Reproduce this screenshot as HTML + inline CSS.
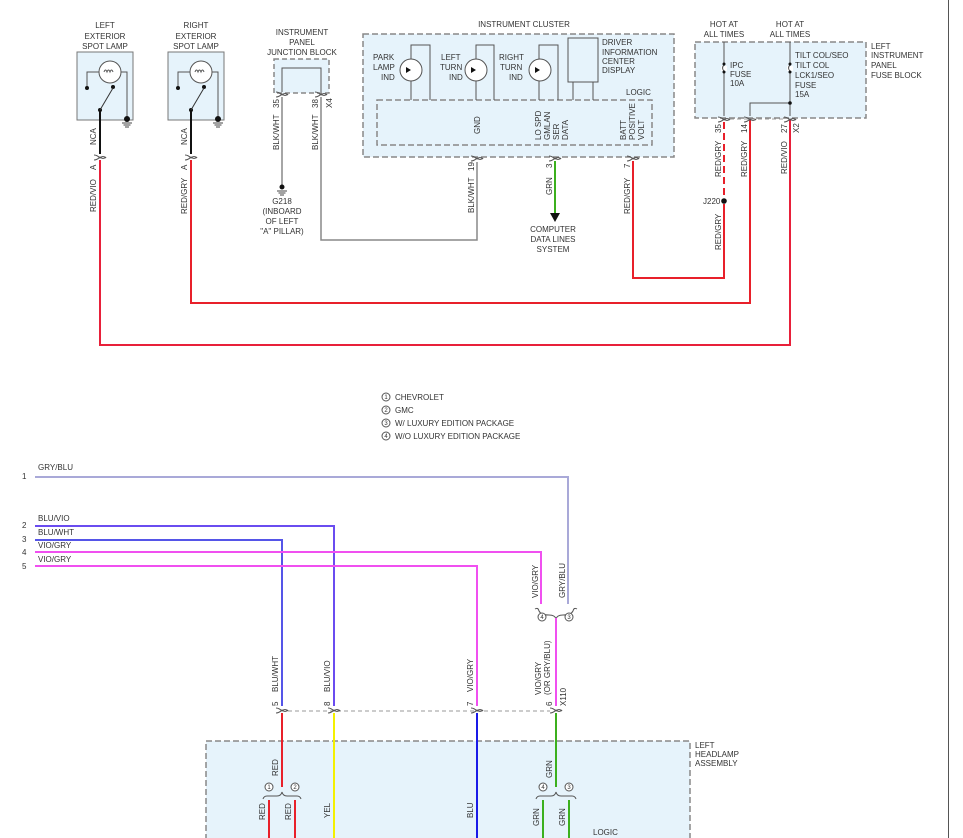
<!DOCTYPE html>
<html><head><meta charset="utf-8"><style>
html,body{margin:0;padding:0;background:#fff;}
svg{display:block;font-family:"Liberation Sans",sans-serif;}
text{font-size:8px;fill:#333;}
</style></head><body>
<svg width="963" height="838" viewBox="0 0 963 838" xmlns="http://www.w3.org/2000/svg">
<defs>
<g id="pin"><path d="M-6,0 q3,0 6,3 q3,-3 6,0" fill="none" stroke="#555" stroke-width="1"/><path d="M-6,5 q3,0 6,-3 q3,3 6,0" fill="none" stroke="#555" stroke-width="1"/></g>
<g id="gnd"><line x1="-5" y1="0" x2="5" y2="0" stroke="#444"/><line x1="-3.5" y1="2" x2="3.5" y2="2" stroke="#444"/><line x1="-2" y1="4" x2="2" y2="4" stroke="#444"/></g>
<g id="lamp">
<rect x="0" y="0" width="56" height="68" fill="#e6f3fb" stroke="#777"/>
<circle cx="33" cy="20" r="11" fill="#fff" stroke="#555"/>
<path d="M27,20 q1.5,-4 3,0 q1.5,-4 3,0 q1.5,-4 3,0" fill="none" stroke="#555"/>
<polyline points="10,36 10,20 22,20" fill="none" stroke="#555"/>
<polyline points="44,20 50,20 50,66" fill="none" stroke="#555"/>
<circle cx="10" cy="36" r="2" fill="#111"/>
<circle cx="36" cy="35" r="2" fill="#111"/>
<circle cx="23" cy="58" r="2" fill="#111"/>
<line x1="23" y1="58" x2="36" y2="36" stroke="#333"/>
<circle cx="50" cy="67" r="3" fill="#111"/>
<use href="#gnd" x="50" y="71"/>
</g>
</defs>

<!-- right border line -->
<line x1="948.5" y1="0" x2="948.5" y2="838" stroke="#555"/>

<!-- spot lamps -->
<text x="105" y="28" text-anchor="middle">LEFT</text><text x="105" y="39" text-anchor="middle">EXTERIOR</text><text x="105" y="49" text-anchor="middle">SPOT LAMP</text>
<text x="196" y="28" text-anchor="middle">RIGHT</text><text x="196" y="39" text-anchor="middle">EXTERIOR</text><text x="196" y="49" text-anchor="middle">SPOT LAMP</text>
<use href="#lamp" x="77" y="52"/>
<use href="#lamp" x="168" y="52"/>
<line x1="100" y1="110" x2="100" y2="154" stroke="#111" stroke-width="2"/>
<line x1="191" y1="110" x2="191" y2="154" stroke="#111" stroke-width="2"/>
<use href="#pin" x="100" y="155"/><use href="#pin" x="191" y="155"/>
<text transform="translate(96,145) rotate(-90)">NCA</text>
<text transform="translate(187,145) rotate(-90)">NCA</text>
<text transform="translate(96,170) rotate(-90)">A</text>
<text transform="translate(187,170) rotate(-90)">A</text>
<text transform="translate(96,212) rotate(-90)">RED/VIO</text>
<text transform="translate(187,214) rotate(-90)">RED/GRY</text>
<polyline points="100,160 100,345 790,345 790,120" fill="none" stroke="#e8203a" stroke-width="2"/>
<polyline points="191,160 191,303 750,303 750,120" fill="none" stroke="#e8202a" stroke-width="2"/>

<!-- junction block -->
<text x="302" y="35" text-anchor="middle">INSTRUMENT</text><text x="302" y="45" text-anchor="middle">PANEL</text><text x="302" y="55" text-anchor="middle">JUNCTION BLOCK</text>
<rect x="274" y="59" width="55" height="34" fill="#e6f3fb" stroke="#888" stroke-dasharray="5,3" stroke-width="1.5"/>
<polyline points="282,92 282,68 321,68 321,92" fill="none" stroke="#555"/>
<use href="#pin" x="282" y="92"/><use href="#pin" x="321" y="92"/>
<text transform="translate(279,108) rotate(-90)">35</text>
<text transform="translate(318,108) rotate(-90)">38</text>
<text transform="translate(332,108) rotate(-90)">X4</text>
<text transform="translate(279,150) rotate(-90)">BLK/WHT</text>
<text transform="translate(318,150) rotate(-90)">BLK/WHT</text>
<line x1="282" y1="97" x2="282" y2="187" stroke="#888" stroke-width="1.5"/>
<circle cx="282" cy="187" r="2.5" fill="#111"/><use href="#gnd" x="282" y="191"/>
<text x="282" y="204" text-anchor="middle">G218</text>
<text x="282" y="214" text-anchor="middle">(INBOARD</text>
<text x="282" y="224" text-anchor="middle">OF LEFT</text>
<text x="282" y="234" text-anchor="middle">"A" PILLAR)</text>
<polyline points="321,97 321,240 477,240 477,162" fill="none" stroke="#888" stroke-width="1.5"/>

<!-- instrument cluster -->
<text x="524" y="27" text-anchor="middle">INSTRUMENT CLUSTER</text>
<rect x="363" y="34" width="311" height="123" fill="#e6f3fb" stroke="#888" stroke-dasharray="6,3" stroke-width="1.5"/>
<rect x="377" y="100" width="275" height="45" fill="#e6f3fb" stroke="#888" stroke-dasharray="6,3" stroke-width="1.5"/>
<g fill="none" stroke="#555">
<polyline points="411,100 411,45 430,45 430,100"/>
<polyline points="476,100 476,45 494,45 494,100"/>
<polyline points="539,100 539,45 558,45 558,100"/>
<rect x="568" y="38" width="30" height="44" fill="#e6f3fb"/>
<line x1="573" y1="82" x2="573" y2="100"/><line x1="593" y1="82" x2="593" y2="100"/>
</g>
<g fill="#fff" stroke="#555"><circle cx="411" cy="70" r="11"/><circle cx="476" cy="70" r="11"/><circle cx="540" cy="70" r="11"/></g>
<g fill="#111"><path d="M406,67 l5,3 l-5,3z"/><path d="M471,67 l5,3 l-5,3z"/><path d="M535,67 l5,3 l-5,3z"/></g>
<text x="373" y="60">PARK</text><text x="373" y="70">LAMP</text><text x="381" y="80">IND</text>
<text x="441" y="60">LEFT</text><text x="440" y="70">TURN</text><text x="449" y="80">IND</text>
<text x="499" y="60">RIGHT</text><text x="500" y="70">TURN</text><text x="509" y="80">IND</text>
<text x="602" y="45">DRIVER</text><text x="602" y="55">INFORMATION</text><text x="602" y="64">CENTER</text><text x="602" y="73">DISPLAY</text>
<text x="626" y="95">LOGIC</text>
<text transform="translate(480,134) rotate(-90)">GND</text>
<text transform="translate(541,140) rotate(-90)">LO SPD</text>
<text transform="translate(550,140) rotate(-90)">GMLAN</text>
<text transform="translate(559,140) rotate(-90)">SER</text>
<text transform="translate(568,140) rotate(-90)">DATA</text>
<text transform="translate(626,140) rotate(-90)">BATT</text>
<text transform="translate(635,140) rotate(-90)">POSITIVE</text>
<text transform="translate(644,140) rotate(-90)">VOLT</text>
<use href="#pin" x="477" y="156"/><use href="#pin" x="555" y="156"/><use href="#pin" x="633" y="156"/>
<text transform="translate(474,171) rotate(-90)">19</text>
<text transform="translate(552,168) rotate(-90)">3</text>
<text transform="translate(630,168) rotate(-90)">7</text>
<text transform="translate(474,213) rotate(-90)">BLK/WHT</text>
<text transform="translate(552,195) rotate(-90)">GRN</text>
<text transform="translate(630,214) rotate(-90)">RED/GRY</text>
<line x1="555" y1="161" x2="555" y2="213" stroke="#3cb01e" stroke-width="2"/>
<path d="M550,213 h10 l-5,9z" fill="#111"/>
<text x="553" y="232" text-anchor="middle">COMPUTER</text><text x="553" y="242" text-anchor="middle">DATA LINES</text><text x="553" y="252" text-anchor="middle">SYSTEM</text>
<polyline points="633,161 633,278 724,278 724,204" fill="none" stroke="#e8202a" stroke-width="2"/>

<!-- fuse block -->
<text x="724" y="27" text-anchor="middle">HOT AT</text><text x="724" y="37" text-anchor="middle">ALL TIMES</text>
<text x="790" y="27" text-anchor="middle">HOT AT</text><text x="790" y="37" text-anchor="middle">ALL TIMES</text>
<rect x="695" y="42" width="171" height="76" fill="#e6f3fb" stroke="#888" stroke-dasharray="6,3" stroke-width="1.5"/>
<g stroke="#555" fill="none">
<line x1="724" y1="42" x2="724" y2="116"/>
<line x1="790" y1="42" x2="790" y2="116"/>
<polyline points="750,116 750,103 790,103"/>
</g>
<g fill="#fff"><rect x="721" y="66" width="6" height="5"/><rect x="787" y="66" width="6" height="5"/></g>
<path d="M724,65 q-3,3 0,6" fill="none" stroke="#555"/><path d="M790,65 q-3,3 0,6" fill="none" stroke="#555"/>
<g fill="#111"><circle cx="724" cy="64" r="1.5"/><circle cx="724" cy="72" r="1.5"/><circle cx="790" cy="64" r="1.5"/><circle cx="790" cy="72" r="1.5"/><circle cx="790" cy="103" r="1.8"/></g>
<text x="730" y="68">IPC</text><text x="730" y="77">FUSE</text><text x="730" y="86">10A</text>
<text x="795" y="58">TILT COL/SEO</text><text x="795" y="68">TILT COL</text><text x="795" y="78">LCK1/SEO</text><text x="795" y="88">FUSE</text><text x="795" y="97">15A</text>
<text x="871" y="49">LEFT</text><text x="871" y="58">INSTRUMENT</text><text x="871" y="68">PANEL</text><text x="871" y="78">FUSE BLOCK</text>
<use href="#pin" x="724" y="117"/><use href="#pin" x="750" y="117"/><use href="#pin" x="790" y="117"/>
<line x1="730" y1="119" x2="784" y2="119" stroke="#999" stroke-dasharray="4,3"/>
<text transform="translate(721,133) rotate(-90)">35</text>
<text transform="translate(747,133) rotate(-90)">14</text>
<text transform="translate(787,133) rotate(-90)">27</text>
<text transform="translate(799,133) rotate(-90)">X2</text>
<text transform="translate(721,177) rotate(-90)">RED/GRY</text>
<text transform="translate(747,177) rotate(-90)">RED/GRY</text>
<text transform="translate(787,174) rotate(-90)">RED/VIO</text>
<text transform="translate(721,250) rotate(-90)">RED/GRY</text>
<line x1="724" y1="122" x2="724" y2="200" stroke="#e8202a" stroke-width="2" stroke-dasharray="7,4"/>
<circle cx="724" cy="201" r="2.8" fill="#111"/>
<text x="703" y="204">J220</text>

<!-- legend -->
<g fill="#fff" stroke="#555"><circle cx="386" cy="397" r="4"/><circle cx="386" cy="410" r="4"/><circle cx="386" cy="423" r="4"/><circle cx="386" cy="436" r="4"/></g>
<g style="font-size:6px"><text x="386" y="399" text-anchor="middle" style="font-size:6px">1</text><text x="386" y="412" text-anchor="middle" style="font-size:6px">2</text><text x="386" y="425" text-anchor="middle" style="font-size:6px">3</text><text x="386" y="438" text-anchor="middle" style="font-size:6px">4</text></g>
<text x="395" y="400">CHEVROLET</text><text x="395" y="413">GMC</text><text x="395" y="426">W/ LUXURY EDITION PACKAGE</text><text x="395" y="439">W/O LUXURY EDITION PACKAGE</text>

<!-- lower wires -->
<text x="22" y="479">1</text><text x="22" y="528">2</text><text x="22" y="542">3</text><text x="22" y="555">4</text><text x="22" y="569">5</text>
<text x="38" y="470">GRY/BLU</text><text x="38" y="521">BLU/VIO</text><text x="38" y="535">BLU/WHT</text><text x="38" y="548">VIO/GRY</text><text x="38" y="562">VIO/GRY</text>
<polyline points="35,477 568,477 568,604" fill="none" stroke="#a9a9d8" stroke-width="2"/>
<polyline points="35,526 334,526 334,706" fill="none" stroke="#6a4cf0" stroke-width="2"/>
<polyline points="35,540 282,540 282,706" fill="none" stroke="#5555e8" stroke-width="2"/>
<polyline points="35,552 541,552 541,604" fill="none" stroke="#f050f0" stroke-width="2"/>
<polyline points="35,566 477,566 477,706" fill="none" stroke="#f050f0" stroke-width="2"/>
<text transform="translate(538,598) rotate(-90)">VIO/GRY</text>
<text transform="translate(565,598) rotate(-90)">GRY/BLU</text>
<path d="M535,609 q3,-2 4,2 q2,4 10,4 q6,0 7,4 q1,-4 7,-4 q8,0 10,-4 q1,-4 4,-2" fill="none" stroke="#555"/>
<g fill="#fff" stroke="#555"><circle cx="542" cy="617" r="4"/><circle cx="569" cy="617" r="4"/></g>
<text x="542" y="619" text-anchor="middle" style="font-size:6px">4</text><text x="569" y="619" text-anchor="middle" style="font-size:6px">3</text>
<line x1="556" y1="618" x2="556" y2="706" stroke="#f050f0" stroke-width="2"/>
<text transform="translate(541,695) rotate(-90)">VIO/GRY</text>
<text transform="translate(550,695) rotate(-90)">(OR GRY/BLU)</text>
<text transform="translate(566,706) rotate(-90)">X110</text>
<text transform="translate(278,692) rotate(-90)">BLU/WHT</text>
<text transform="translate(330,692) rotate(-90)">BLU/VIO</text>
<text transform="translate(473,692) rotate(-90)">VIO/GRY</text>
<text transform="translate(278,706) rotate(-90)">5</text>
<text transform="translate(330,706) rotate(-90)">8</text>
<text transform="translate(473,706) rotate(-90)">7</text>
<text transform="translate(552,706) rotate(-90)">6</text>
<line x1="288" y1="711" x2="550" y2="711" stroke="#999" stroke-dasharray="4,3"/>
<use href="#pin" x="282" y="708"/><use href="#pin" x="334" y="708"/><use href="#pin" x="477" y="708"/><use href="#pin" x="556" y="708"/>

<!-- headlamp assembly -->
<rect x="206" y="741" width="484" height="110" fill="#e6f3fb" stroke="#888" stroke-dasharray="6,3" stroke-width="1.5"/>
<text x="695" y="748">LEFT</text><text x="695" y="757">HEADLAMP</text><text x="695" y="766">ASSEMBLY</text>
<line x1="282" y1="713" x2="282" y2="787" stroke="#e8202a" stroke-width="2"/>
<line x1="334" y1="713" x2="334" y2="838" stroke="#f4f000" stroke-width="2"/>
<line x1="477" y1="713" x2="477" y2="838" stroke="#1a1ae8" stroke-width="2"/>
<line x1="556" y1="713" x2="556" y2="787" stroke="#3cb01e" stroke-width="2"/>
<text transform="translate(278,776) rotate(-90)">RED</text>
<text transform="translate(552,778) rotate(-90)">GRN</text>
<path d="M263,799 q1,-3 4,-3 h10 q4,0 5,-4 q1,4 5,4 h10 q3,0 4,3" fill="none" stroke="#555"/>
<path d="M536,799 q1,-3 4,-3 h11 q4,0 5,-4 q1,4 5,4 h11 q3,0 4,3" fill="none" stroke="#555"/>
<g fill="#fff" stroke="#555"><circle cx="269" cy="787" r="4"/><circle cx="295" cy="787" r="4"/><circle cx="543" cy="787" r="4"/><circle cx="569" cy="787" r="4"/></g>
<text x="269" y="789" text-anchor="middle" style="font-size:6px">1</text><text x="295" y="789" text-anchor="middle" style="font-size:6px">2</text>
<text x="543" y="789" text-anchor="middle" style="font-size:6px">4</text><text x="569" y="789" text-anchor="middle" style="font-size:6px">3</text>
<line x1="269" y1="800" x2="269" y2="838" stroke="#e8202a" stroke-width="2"/>
<line x1="295" y1="800" x2="295" y2="838" stroke="#e8202a" stroke-width="2"/>
<line x1="543" y1="800" x2="543" y2="838" stroke="#3cb01e" stroke-width="2"/>
<line x1="569" y1="800" x2="569" y2="838" stroke="#3cb01e" stroke-width="2"/>
<text transform="translate(265,820) rotate(-90)">RED</text>
<text transform="translate(291,820) rotate(-90)">RED</text>
<text transform="translate(330,818) rotate(-90)">YEL</text>
<text transform="translate(473,818) rotate(-90)">BLU</text>
<text transform="translate(539,826) rotate(-90)">GRN</text>
<text transform="translate(565,826) rotate(-90)">GRN</text>
<text x="593" y="835">LOGIC</text>
</svg>
</body></html>
